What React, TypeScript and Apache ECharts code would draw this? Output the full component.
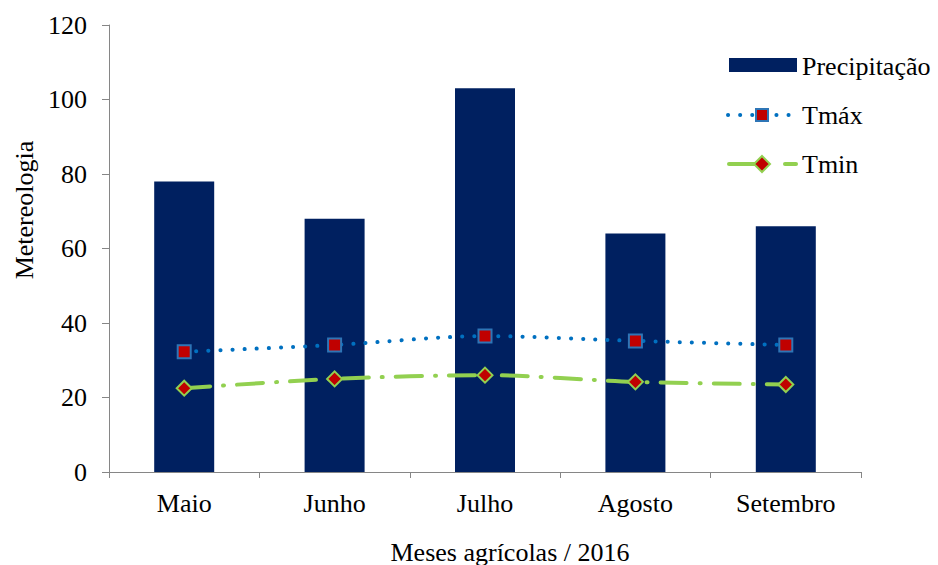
import React, { useEffect, useRef } from "react";
import * as echarts from "echarts";

const categories = ["Maio", "Junho", "Julho", "Agosto", "Setembro"];
const precipitacao = [78, 68, 103, 64, 66];
const tmax = [32.3, 34.1, 36.5, 35.2, 34.1];
const tmin = [22.5, 25.0, 26.0, 24.2, 23.5];
const yTicks = [0, 20, 40, 60, 80, 100, 120];

const FONT = "'Liberation Serif', 'DejaVu Serif', serif";
const NAVY = "#002060";
const BLUE = "#0070C0";
const GREEN = "#92D050";
const RED = "#C00000";
const FS = 26;

export default function App() {
  const ref = useRef<HTMLDivElement>(null);
  useEffect(() => {
    if (!ref.current) return;
    const chart = echarts.init(ref.current, undefined, { renderer: "svg" });
    chart.setOption({
      animation: false,
      backgroundColor: "#ffffff",
      textStyle: { fontFamily: FONT },
      grid: { left: 109, right: 77, top: 25, bottom: 93, containLabel: false },
      xAxis: {
        type: "category",
        data: categories,
        axisLine: { lineStyle: { color: "#868686", width: 1 } },
        axisTick: { show: true, alignWithLabel: false, length: 6, lineStyle: { color: "#868686" } },
        axisLabel: { color: "#000", fontFamily: FONT, fontSize: FS, margin: 18 },
      },
      yAxis: {
        type: "value",
        min: yTicks[0],
        max: yTicks[yTicks.length - 1],
        interval: 20,
        splitLine: { show: false },
        axisLine: { show: true, lineStyle: { color: "#868686", width: 1 } },
        axisTick: { show: true, length: 7, lineStyle: { color: "#868686" } },
        axisLabel: { color: "#000", fontFamily: FONT, fontSize: FS, margin: 22 },
      },
      series: [
        {
          name: "Precipitação",
          type: "bar",
          data: precipitacao,
          barWidth: 60,
          itemStyle: { color: NAVY },
        },
        {
          name: "Tmáx",
          type: "line",
          data: tmax,
          symbol: "rect",
          symbolSize: 13,
          smooth: 0.3,
          lineStyle: { color: BLUE, width: 4, type: [0.1, 12], cap: "round" },
          itemStyle: { color: RED, borderColor: "#2E75B6", borderWidth: 2 },
          z: 3,
        },
        {
          name: "Tmin",
          type: "line",
          data: tmin,
          symbol: "diamond",
          symbolSize: 15,
          smooth: 0.3,
          lineStyle: { color: GREEN, width: 4, type: [26, 13, 1, 13], cap: "round" },
          itemStyle: { color: RED, borderColor: GREEN, borderWidth: 2 },
          z: 3,
        },
      ],
      graphic: [
        { type: "rect", shape: { x: 729, y: 58, width: 68, height: 14 }, style: { fill: NAVY } },
        { type: "text", x: 802, y: 66, style: { text: "Precipitação", font: `${FS}px ${FONT}`, fill: "#000", textVerticalAlign: "middle" } },
        { type: "line", shape: { x1: 728, y1: 115, x2: 790, y2: 115 }, style: { stroke: BLUE, lineWidth: 4, lineDash: [0.1, 12], lineCap: "round" } },
        { type: "rect", shape: { x: 756, y: 109, width: 12, height: 12 }, style: { fill: RED, stroke: "#2E75B6", lineWidth: 2 } },
        { type: "text", x: 802, y: 115, style: { text: "Tmáx", font: `${FS}px ${FONT}`, fill: "#000", textVerticalAlign: "middle" } },
        { type: "line", shape: { x1: 729, y1: 164, x2: 762, y2: 164 }, style: { stroke: GREEN, lineWidth: 4, lineCap: "round" } },
        { type: "line", shape: { x1: 785, y1: 164, x2: 796, y2: 164 }, style: { stroke: GREEN, lineWidth: 4, lineCap: "round" } },
        { type: "polygon", shape: { points: [[762, 156], [770, 164], [762, 172], [754, 164]] }, style: { fill: RED, stroke: GREEN, lineWidth: 2 } },
        { type: "text", x: 802, y: 164, style: { text: "Tmin", font: `${FS}px ${FONT}`, fill: "#000", textVerticalAlign: "middle" } },
        { type: "text", x: 24, y: 210, rotation: Math.PI / 2, style: { text: "Metereologia", font: `${FS}px ${FONT}`, fill: "#000", textAlign: "center", textVerticalAlign: "middle" } },
        { type: "text", x: 510, y: 552, style: { text: "Meses agrícolas / 2016", font: `${FS}px ${FONT}`, fill: "#000", textAlign: "center", textVerticalAlign: "middle" } },
      ],
    });
    return () => chart.dispose();
  }, []);
  return <div ref={ref} style={{ width: 938, height: 565, position: "absolute", left: 0, top: 0 }} />;
}
